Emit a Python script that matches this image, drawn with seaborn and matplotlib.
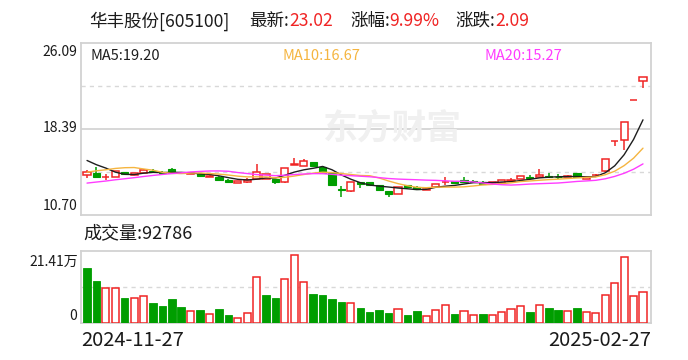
import numpy as np
import pandas as pd
import matplotlib
matplotlib.use("Agg")
import matplotlib.pyplot as plt
import seaborn as sns

sns.set_style("white")
plt.rcParams['font.family'] = ['Noto Sans CJK SC', 'DejaVu Sans']

# closes before the shown window, only needed for the moving averages
prev_close = [12.20, 12.30, 12.40, 12.50, 12.50, 12.60, 12.60, 12.70, 12.80, 13.10,
              12.90, 13.20, 13.40, 13.70, 14.25, 15.98, 15.62, 16.39, 15.33]

# daily candles, 2024-11-27 .. 2025-02-27
open_ = [14.26, 14.41, 14.10, 14.08, 14.53, 14.29, 14.47, 14.65, 14.53, 14.83,
         14.47, 14.38, 14.44, 14.08, 14.11, 13.79, 13.55, 13.61, 13.94, 13.91,
         13.94, 13.61, 15.19, 15.12, 15.42, 14.95, 14.44, 13.04, 12.81, 13.64,
         13.61, 13.40, 12.81, 12.60, 13.37, 13.16, 12.96, 13.16, 13.61, 13.73,
         13.85, 13.70, 13.67, 13.55, 13.55, 13.70, 13.91, 14.10, 14.11, 14.20,
         14.13, 14.11, 14.47, 13.91, 14.23, 14.59, 17.30, 17.38, 20.93, 22.66]
high = [14.74, 14.98, 14.32, 14.65, 14.56, 14.47, 14.77, 14.80, 14.60, 14.92,
        14.50, 14.50, 14.47, 14.23, 14.14, 13.90, 13.73, 13.97, 15.27, 14.35,
        13.94, 14.89, 15.78, 15.72, 15.45, 15.10, 14.44, 13.25, 13.64, 13.64,
        13.64, 13.40, 12.81, 13.19, 13.37, 13.31, 13.07, 13.46, 14.08, 13.73,
        14.08, 13.82, 13.70, 13.67, 13.79, 14.02, 14.14, 14.25, 14.83, 14.47,
        14.36, 14.26, 14.47, 14.11, 14.32, 15.73, 17.30, 19.03, 20.93, 23.02]
low = [13.97, 14.08, 13.79, 14.06, 14.26, 14.26, 14.44, 14.41, 14.41, 14.44,
       14.35, 14.35, 14.10, 14.05, 13.73, 13.55, 13.52, 13.58, 13.90, 13.91,
       13.46, 13.52, 15.19, 15.12, 14.97, 14.44, 13.31, 12.30, 12.78, 13.10,
       13.31, 12.85, 12.27, 12.60, 13.16, 12.96, 12.93, 13.16, 13.37, 13.52,
       13.64, 13.64, 13.49, 13.40, 13.55, 13.70, 13.91, 13.90, 14.11, 14.08,
       13.95, 14.11, 14.06, 13.91, 14.20, 14.50, 16.85, 16.49, 20.93, 22.05]
close = [14.53, 14.08, 14.12, 14.59, 14.35, 14.41, 14.71, 14.50, 14.47, 14.44,
         14.41, 14.44, 14.14, 14.20, 13.79, 13.61, 13.70, 13.85, 14.53, 14.35,
         13.61, 14.89, 15.28, 15.54, 15.04, 14.44, 13.40, 12.96, 13.64, 13.49,
         13.40, 12.90, 12.57, 13.19, 13.16, 13.02, 13.04, 13.46, 13.67, 13.52,
         13.64, 13.66, 13.49, 13.64, 13.79, 13.82, 14.14, 14.04, 14.29, 14.08,
         14.05, 14.20, 14.06, 14.11, 14.27, 15.73, 17.30, 19.03, 20.93, 23.02]
# volume in 万股
volume = [16.26, 12.62, 10.40, 10.40, 7.47, 7.37, 7.98, 5.96, 5.05, 7.17,
          4.75, 3.43, 3.84, 2.63, 4.14, 2.32, 1.62, 2.83, 13.73, 8.38,
          7.47, 13.13, 20.20, 12.22, 8.68, 8.38, 7.17, 6.26, 5.96, 4.44,
          3.23, 3.84, 2.93, 4.04, 2.32, 3.53, 2.22, 3.74, 5.25, 2.63,
          3.43, 2.52, 2.63, 2.52, 3.13, 4.04, 4.95, 3.23, 5.25, 4.44,
          3.84, 3.43, 4.44, 3.13, 2.83, 8.28, 11.92, 19.49, 7.98, 9.28]
date_labels = ['2024-11-27', '2025-02-27']

RED = '#f02424'
GREEN = '#009e00'
MA_COLORS = {'ma5': '#1e1e1e', 'ma10': '#f5b540', 'ma20': '#ff3cff'}

n = len(close)
x = np.arange(n)
allc = pd.Series(prev_close + close)
df = pd.DataFrame({'x': x,
                   'ma5': allc.rolling(5).mean().values[-n:],
                   'ma10': allc.rolling(10).mean().values[-n:],
                   'ma20': allc.rolling(20).mean().values[-n:]})

o = np.array(open_); c = np.array(close); h = np.array(high); l = np.array(low)
up = c >= o
vol_up = c >= np.array(prev_close[-1:] + close[:-1])

W, H = 688, 360
fig = plt.figure(figsize=(W / 100, H / 100), dpi=100)
ax = fig.add_axes([81 / W, 1 - 215 / H, 570 / W, 172.3 / H])
axv = fig.add_axes([81 / W, 1 - 323 / H, 570 / W, 72 / H])

ymin, ymax = 10.70, 26.09
vmax = 21.41

# grid lines
for yy in [ymin + (ymax - ymin) * 0.25, ymin + (ymax - ymin) * 0.75]:
    ax.axhline(yy, color='#d8d8d8', lw=1.0, ls=(0, (3, 3)), zorder=0)
ax.axhline((ymin + ymax) / 2, color='#d4d4d4', lw=1.3, zorder=0)
axv.axhline(vmax / 2, color='#d8d8d8', lw=1.0, ls=(0, (3, 3)), zorder=0)

# watermark
ax.text(392 / W, 1 - 128 / H, '东方财富', transform=fig.transFigure, fontsize=25,
        fontweight='bold', color='#f0f0f0', ha='center', va='center', zorder=0.5)

# candles
bw = 0.76
body_lo = np.minimum(o, c)
body_h = np.maximum(np.abs(c - o), 0.025)
ax.vlines(x[~up], l[~up], h[~up], color=GREEN, lw=1.1, zorder=2)
ax.bar(x[~up], body_h[~up], bottom=body_lo[~up], width=bw, color=GREEN,
       edgecolor=GREEN, lw=0.8, zorder=3)
ax.vlines(x[up], c[up], h[up], color=RED, lw=1.1, zorder=2)
ax.vlines(x[up], l[up], o[up], color=RED, lw=1.1, zorder=2)
ax.bar(x[up], body_h[up], bottom=body_lo[up], width=bw, facecolor='white',
       edgecolor=RED, lw=1.1, zorder=3)

# moving averages
for col, colr in MA_COLORS.items():
    sns.lineplot(data=df, x='x', y=col, ax=ax, color=colr, lw=1.0, zorder=4)

# volume
v = np.array(volume)
axv.bar(x[~vol_up], v[~vol_up], width=0.8, color=GREEN, edgecolor=GREEN, lw=0.6, zorder=3)
axv.bar(x[vol_up], v[vol_up], width=0.76, facecolor='white', edgecolor=RED, lw=1.1, zorder=3)

for a in (ax, axv):
    a.set_xlim(-0.64, n - 0.15)
    a.set_xticks([]); a.set_yticks([])
    a.set_xlabel(''); a.set_ylabel('')
    for s in a.spines.values():
        s.set_color('#d2d2d2'); s.set_linewidth(1.3)
ax.set_ylim(ymin, ymax)
axv.set_ylim(0, vmax)


def px(xp, yp, s, color='#1a1a1a', size=10, ha='left', va='center'):
    fig.text(xp / W, 1 - yp / H, s, color=color, fontsize=size, ha=ha, va=va)


# title line
for s, xp, colr in [('华丰股份[605100]', 89, '#1a1a1a'), ('最新:', 249, '#1a1a1a'),
                    ('23.02', 289, RED), ('涨幅:', 350, '#1a1a1a'),
                    ('9.99%', 389, RED), ('涨跌:', 455, '#1a1a1a'),
                    ('2.09', 495, RED)]:
    px(xp, 21, s, colr, 12.6)

px(90, 56, 'MA5:19.20', MA_COLORS['ma5'], 10.5)
px(283, 56, 'MA10:16.67', MA_COLORS['ma10'], 10.5)
px(484, 56, 'MA20:15.27', MA_COLORS['ma20'], 10.5)

px(77, 52, '26.09', size=10, ha='right')
px(77, 128, '18.39', size=10, ha='right')
px(77, 206, '10.70', size=10, ha='right')

px(83, 233, '成交量:92786', size=13)
px(78, 262, '21.41万', size=10, ha='right')
px(77, 316, '0', size=10, ha='right')

px(81, 341, date_labels[0], size=14.5)
px(651, 341, date_labels[1], size=14.5, ha='right')

fig.savefig('out.png', dpi=100, facecolor='white')
